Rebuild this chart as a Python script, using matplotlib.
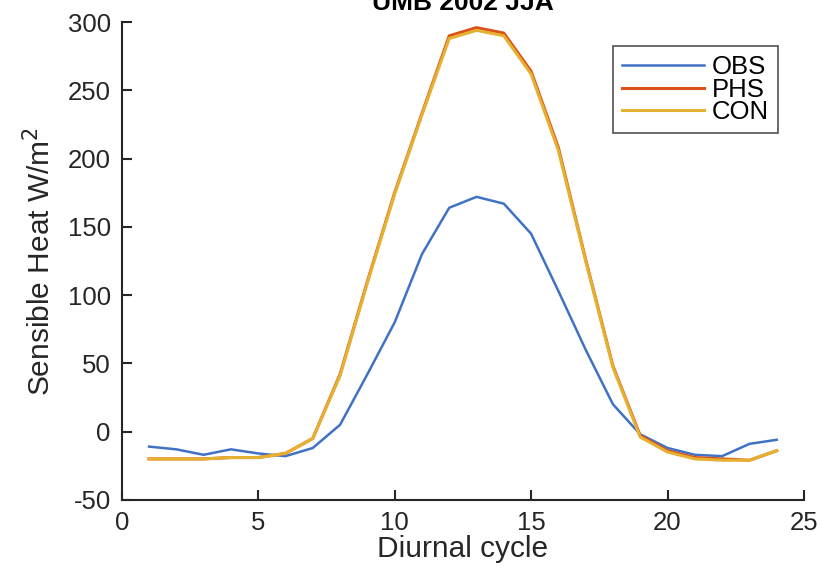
import matplotlib
matplotlib.use("Agg")
import matplotlib.pyplot as plt

plt.rcParams['font.family'] = ['Liberation Sans', 'DejaVu Sans']
plt.rcParams['axes.unicode_minus'] = False

# saat (diurnal cycle)
hours = list(range(1, 25))
obs = [-11, -13, -17, -13, -16, -18, -12, 5, 42, 80, 130, 164,
       172, 167, 145, 103, 60, 20, -2, -12, -17, -18, -9, -6]
phs = [-20, -20, -20, -19, -19, -16, -5, 42, 110, 175, 233, 290,
       296, 292, 264, 208, 126, 48, -3, -14, -19, -20, -21, -14]
con = [-20, -20, -20, -19, -19, -16, -5, 41, 109, 174, 232, 288,
       294, 290, 262, 206, 125, 47, -4, -15, -20, -21, -21, -14]

xticks = [0, 5, 10, 15, 20, 25]
yticks = [-50, 0, 50, 100, 150, 200, 250, 300]

fig = plt.figure(figsize=(8.34, 5.68), dpi=100)
ax = fig.add_axes([0.146, 0.120, 0.818, 0.841])

ax.plot(hours, obs, color="#3F72C4", lw=1.8, label="OBS")
ax.plot(hours, phs, color="#D95319", lw=2.2, label="PHS")
ax.plot(hours, con, color="#E6B030", lw=2.2, label="CON")

ax.set_xlim(0, 25)
ax.set_ylim(-50, 300)
ax.set_xticks(xticks)
ax.set_yticks(yticks)

# kutu kapali (box off)
ax.spines['top'].set_visible(False)
ax.spines['right'].set_visible(False)
for s in ['left', 'bottom']:
    ax.spines[s].set_linewidth(1.5)
    ax.spines[s].set_color("#262626")
ax.tick_params(direction='in', length=7, width=1.5, labelsize=18.5,
               colors="#262626", pad=8)

ax.set_xlabel("Diurnal cycle", fontsize=21.5, color="#262626", labelpad=0)
ax.set_ylabel("Sensible Heat W/m$^2$", fontsize=21.5, color="#262626", labelpad=8)

fig.text(0.146 + 0.818 / 2, 0.982, "UMB 2002 JJA", ha='center', va='baseline',
         fontsize=19, fontweight='bold', color="black")

leg = ax.legend(loc='upper right', bbox_to_anchor=(0.762, 0.93, 0.2, 0.02),
                fontsize=18.5, frameon=True, fancybox=False, handlelength=3.2,
                handletextpad=0.3, labelspacing=-0.05, borderpad=0.35,
                borderaxespad=0)
leg.get_frame().set_edgecolor("#262626")
leg.get_frame().set_linewidth(1.2)

fig.savefig("out.png", dpi=100)
